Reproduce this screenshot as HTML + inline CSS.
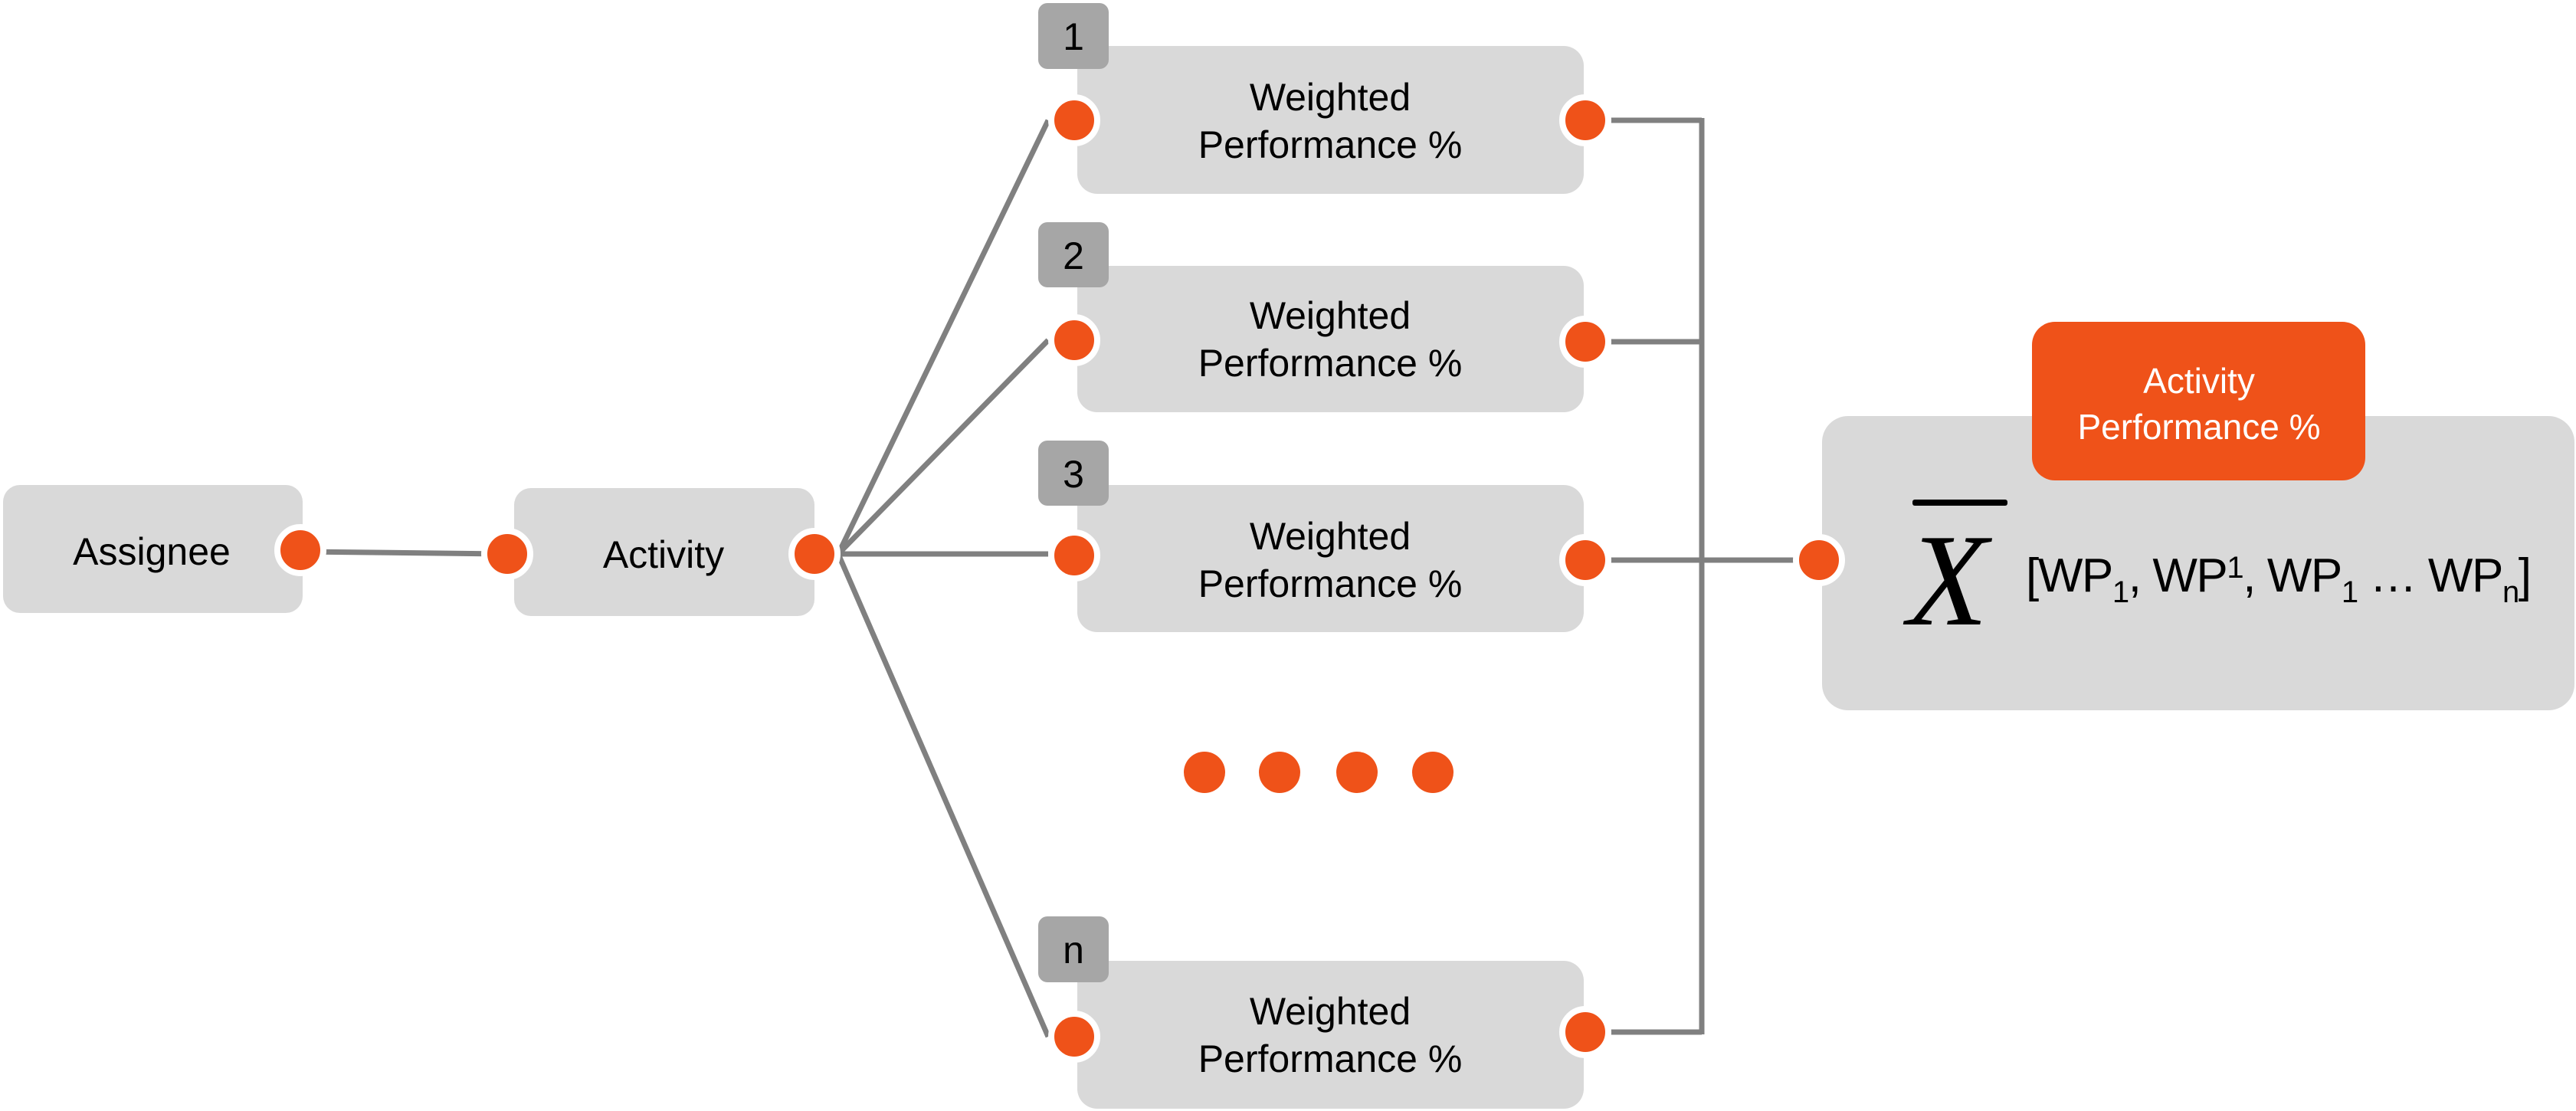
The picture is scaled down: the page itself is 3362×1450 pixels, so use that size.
<!DOCTYPE html>
<html><head><meta charset="utf-8"><style>
html,body{margin:0;padding:0;background:#fff;}
svg{display:block;}
</style></head><body>
<svg width="3362" height="1450" viewBox="0 0 3362 1450" xmlns="http://www.w3.org/2000/svg" font-family="Liberation Sans, sans-serif">
<g stroke="#808080" stroke-width="7" fill="none">
<line x1="392" y1="720" x2="662" y2="723"/>
<line x1="1094" y1="723" x2="1368" y2="157"/>
<line x1="1094" y1="723" x2="1368" y2="444"/>
<line x1="1094" y1="723" x2="1368" y2="723"/>
<line x1="1094" y1="723" x2="1368" y2="1353"/>
<line x1="2069" y1="157" x2="2221" y2="157"/>
<line x1="2069" y1="446" x2="2221" y2="446"/>
<line x1="2069" y1="731" x2="2374" y2="731"/>
<line x1="2069" y1="1347" x2="2221" y2="1347"/>
<line x1="2221" y1="154" x2="2221" y2="1350"/>
</g>
<g fill="#d9d9d9">
<rect x="4" y="633" width="391" height="167" rx="22"/>
<rect x="671" y="637" width="392" height="167" rx="22"/>
<rect x="1406" y="60" width="661" height="193" rx="26"/>
<rect x="1406" y="347" width="661" height="191" rx="26"/>
<rect x="1406" y="633" width="661" height="192" rx="26"/>
<rect x="1406" y="1254" width="661" height="193" rx="26"/>
<rect x="2378" y="543" width="982" height="384" rx="34"/>
</g>
<g fill="#a6a6a6">
<rect x="1355" y="4" width="92" height="86" rx="12"/>
<rect x="1355" y="290" width="92" height="85" rx="12"/>
<rect x="1355" y="575" width="92" height="85" rx="12"/>
<rect x="1355" y="1196" width="92" height="86" rx="12"/>
</g>
<rect x="2652" y="420" width="435" height="207" rx="30" fill="#ef5219"/>
<g fill="#ef5219" stroke="#fff" stroke-width="8">
<circle cx="392" cy="718" r="30"/>
<circle cx="662" cy="723" r="30"/>
<circle cx="1063" cy="723" r="30"/>
<circle cx="1402" cy="157" r="30"/><circle cx="2069" cy="157" r="30"/>
<circle cx="1402" cy="444" r="30"/><circle cx="2069" cy="446" r="30"/>
<circle cx="1402" cy="725" r="30"/><circle cx="2069" cy="731" r="30"/>
<circle cx="1402" cy="1353" r="30"/><circle cx="2069" cy="1347" r="30"/>
<circle cx="2374" cy="731" r="30"/>
</g>
<g fill="#ef5219">
<circle cx="1572" cy="1008" r="27"/><circle cx="1670" cy="1008" r="27"/>
<circle cx="1771" cy="1008" r="27"/><circle cx="1870" cy="1008" r="27"/>
</g>
<g font-size="50" fill="#000" text-anchor="middle">
<text x="198" y="737">Assignee</text>
<text x="866" y="741">Activity</text>
<text x="1736" y="144">Weighted</text><text x="1736" y="206">Performance %</text>
<text x="1736" y="429">Weighted</text><text x="1736" y="491">Performance %</text>
<text x="1736" y="717">Weighted</text><text x="1736" y="779">Performance %</text>
<text x="1736" y="1337">Weighted</text><text x="1736" y="1399">Performance %</text>
<text x="1401" y="65">1</text>
<text x="1401" y="351">2</text>
<text x="1401" y="636">3</text>
<text x="1401" y="1257">n</text>
</g>
<g font-size="46" fill="#fff" text-anchor="middle">
<text x="2870" y="513">Activity</text>
<text x="2870" y="573">Performance %</text>
</g>
<rect x="2496" y="652" width="124" height="8" rx="3" fill="#000"/>
<text x="2542" y="815" style="font-family:'Liberation Serif',serif;font-style:italic" font-size="172" text-anchor="middle" fill="#000">X</text>
<text x="2644" y="772" font-size="62" fill="#000" textLength="660">[WP<tspan font-size="40" dy="14">1</tspan><tspan dy="-14">, WP</tspan><tspan font-size="40" dy="-18">1</tspan><tspan dy="18">, WP</tspan><tspan font-size="40" dy="14">1</tspan><tspan dy="-14"> … WP</tspan><tspan font-size="40" dy="14">n</tspan><tspan dy="-14">]</tspan></text>
</svg>
</body></html>
